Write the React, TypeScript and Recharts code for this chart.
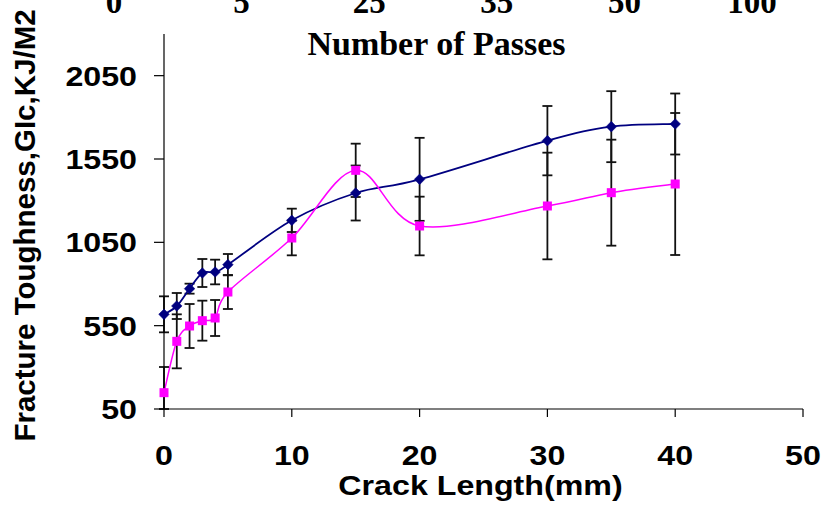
import React from 'react';
import { LineChart, Line, XAxis, YAxis, ErrorBar, Label } from 'recharts';

// Crack length (mm)
const crackLength = [0, 1, 2, 3, 4, 5, 10, 15, 20, 30, 35, 40];
// Series A (navy diamonds)
const seriesA = [618, 668, 772, 866, 872, 916, 1182, 1346, 1428, 1660, 1744, 1760];
const seriesAErr = [108, 78, 30, 84, 74, 64, 70, 165, 249, 208, 213, 183];
// Series B (magenta squares)
const seriesB = [148, 456, 548, 580, 596, 752, 1076, 1482, 1148, 1268, 1348, 1400];
const seriesBErr: (number | [number, number])[] = [[98, 154], 162, 132, 120, 108, 102, 104, 160, 176, 320, 318, 426];
// Axis ticks
const xTicks = [0, 10, 20, 30, 40, 50];
const yTicks = [50, 550, 1050, 1550, 2050];
const passLabels = ['0', '5', '25', '35', '50', '100'];

const data = crackLength.map((x, i) => ({
  x,
  a: seriesA[i],
  aErr: seriesAErr[i],
  b: seriesB[i],
  bErr: seriesBErr[i],
}));

const SANS = '"Liberation Sans", Arial, sans-serif';
const SERIF = '"Liberation Serif", "Times New Roman", serif';
const STRETCH = 1.15;

// Excel-like smoothed line (Catmull-Rom style bezier)
const smoothCurve: any = (context: any) => {
  let pts: [number, number][] = [];
  return {
    areaStart() {},
    areaEnd() {},
    lineStart() {
      pts = [];
    },
    point(x: number, y: number) {
      pts.push([+x, +y]);
    },
    lineEnd() {
      if (!pts.length) return;
      context.moveTo(pts[0][0], pts[0][1]);
      for (let i = 0; i < pts.length - 1; i++) {
        const p0 = pts[i - 1] || pts[i];
        const p1 = pts[i];
        const p2 = pts[i + 1];
        const p3 = pts[i + 2] || p2;
        context.bezierCurveTo(
          p1[0] + (p2[0] - p0[0]) / 6,
          p1[1] + (p2[1] - p0[1]) / 6,
          p2[0] - (p3[0] - p1[0]) / 6,
          p2[1] - (p3[1] - p1[1]) / 6,
          p2[0],
          p2[1]
        );
      }
    },
  };
};

const BottomTick = (props: any) => {
  const { x, y, payload } = props;
  return (
    <g transform={`translate(${x} ${y}) scale(${STRETCH} 1)`}>
      <text x={0} y={0} dy="0.71em" textAnchor="middle" fontFamily={SANS} fontWeight="bold" fontSize={28} fill="#000">
        {payload.value}
      </text>
    </g>
  );
};

const LeftTick = (props: any) => {
  const { x, y, payload } = props;
  return (
    <g transform={`translate(${x} ${y}) scale(${STRETCH} 1)`}>
      <text x={0} y={0} dy="0.355em" textAnchor="end" fontFamily={SANS} fontWeight="bold" fontSize={28} fill="#000">
        {payload.value}
      </text>
    </g>
  );
};

const XTitle = (props: any) => {
  const vb = props.viewBox || {};
  const cx = vb.x + vb.width / 2 - 3;
  const by = vb.y + vb.height - 10;
  return (
    <g transform={`translate(${cx} ${by}) scale(${STRETCH} 1)`}>
      <text x={0} y={0} textAnchor="middle" fontFamily={SANS} fontWeight="bold" fontSize={28} fill="#000">
        Crack Length(mm)
      </text>
    </g>
  );
};

const YTitle = (props: any) => {
  const vb = props.viewBox || {};
  const bx = vb.x + 35;
  const cy = vb.y + vb.height / 2 + 4;
  return (
    <text
      x={bx}
      y={cy}
      transform={`rotate(-90 ${bx} ${cy})`}
      textAnchor="middle"
      fontFamily={SANS}
      fontWeight="bold"
      fontSize={29.5}
      fill="#000"
    >
      Fracture Toughness,GIc,KJ/M2
    </text>
  );
};

const Diamond = (props: any) => {
  const { cx, cy } = props;
  if (cx == null || cy == null) return null;
  const r = 5.3;
  return (
    <polygon
      points={`${cx},${cy - r} ${cx + r},${cy} ${cx},${cy + r} ${cx - r},${cy}`}
      fill="#000080"
      stroke="#000080"
      strokeWidth={0.5}
    />
  );
};

const Square = (props: any) => {
  const { cx, cy } = props;
  if (cx == null || cy == null) return null;
  const s = 9;
  return <rect x={cx - s / 2} y={cy - s / 2} width={s} height={s} fill="#FF00FF" />;
};

export default function App() {
  const topStart = 114;
  const topStep = 127.6;
  return (
    <div style={{ position: 'absolute', left: 0, top: 0, width: 823, height: 505, background: '#fff' }}>
      <LineChart width={823} height={505} data={data} margin={{ top: 34, right: 20, left: 0, bottom: 0 }}>
        <XAxis
          dataKey="x"
          type="number"
          domain={[0, 50]}
          ticks={xTicks}
          height={96}
          tickSize={8}
          tickMargin={28}
          axisLine={{ stroke: '#000', strokeWidth: 1.2 }}
          tickLine={{ stroke: '#000', strokeWidth: 1.2 }}
          tick={(p: any) => <BottomTick {...p} />}
        >
          <Label content={(p: any) => <XTitle {...p} />} />
        </XAxis>
        <YAxis
          type="number"
          domain={[50, 2300]}
          ticks={yTicks}
          width={164}
          tickSize={10}
          tickMargin={17}
          axisLine={{ stroke: '#000', strokeWidth: 1.2 }}
          tickLine={{ stroke: '#000', strokeWidth: 1.2 }}
          tick={(p: any) => <LeftTick {...p} />}
        >
          <Label content={(p: any) => <YTitle {...p} />} />
        </YAxis>
        <Line
          dataKey="a"
          type={smoothCurve}
          stroke="#000080"
          strokeWidth={1.8}
          dot={(p: any) => <Diamond key={`a-${p.index}`} {...p} />}
          activeDot={false}
          isAnimationActive={false}
        >
          <ErrorBar dataKey="aErr" direction="y" width={5} stroke="#111" strokeWidth={1.8} />
        </Line>
        <Line
          dataKey="b"
          type={smoothCurve}
          stroke="#FF00FF"
          strokeWidth={1.5}
          dot={(p: any) => <Square key={`b-${p.index}`} {...p} />}
          activeDot={false}
          isAnimationActive={false}
        >
          <ErrorBar dataKey="bErr" direction="y" width={5} stroke="#111" strokeWidth={1.8} />
        </Line>
      </LineChart>
      <svg
        width={823}
        height={70}
        style={{ position: 'absolute', left: 0, top: 0, pointerEvents: 'none', overflow: 'visible' }}
      >
        {passLabels.map((t, i) => (
          <text
            key={t}
            x={topStart + i * topStep}
            y={12.5}
            textAnchor="middle"
            fontFamily={SERIF}
            fontWeight="bold"
            fontSize={33}
            fill="#000"
          >
            {t}
          </text>
        ))}
        <text x={436.5} y={55} textAnchor="middle" fontFamily={SERIF} fontWeight="bold" fontSize={34} fill="#000">
          Number of Passes
        </text>
      </svg>
    </div>
  );
}
